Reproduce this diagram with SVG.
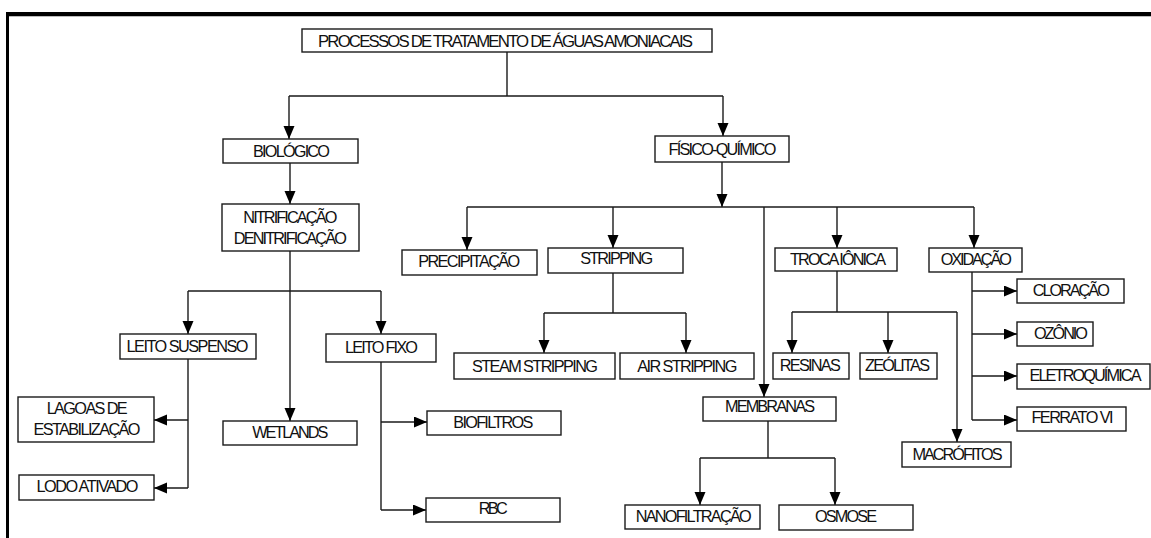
<svg xmlns="http://www.w3.org/2000/svg" width="1151" height="538" viewBox="0 0 1151 538">
<defs>
<style>
.box{fill:#fff;stroke:#1a1a1a;stroke-width:1.4}
.t{font-family:"Liberation Sans",Arial,sans-serif;font-size:16.3px;fill:#111;text-anchor:middle}
.title{font-size:16.8px}
.c{fill:none;stroke:#1a1a1a;stroke-width:1.4}
.a{marker-end:url(#arr)}
</style>
<marker id="arr" markerUnits="userSpaceOnUse" markerWidth="14" markerHeight="12" refX="13" refY="5.5" orient="auto">
<path d="M0,0 L13,5.5 L0,11 z" fill="#000"/>
</marker>
</defs>
<rect width="1151" height="538" fill="#fff"/>
<g id="frame">
<line x1="6" y1="14" x2="1151" y2="14" stroke="#000" stroke-width="4"/>
<line x1="6" y1="16.5" x2="1151" y2="16.5" stroke="#bbb" stroke-width="1"/>
<line x1="7.5" y1="12" x2="7.5" y2="538" stroke="#000" stroke-width="3"/>
</g>
<g id="connectors">
<path class="c" d="M507,52 V96 M289,96 H723"/>
<path class="c a" d="M289,96 V139"/>
<path class="c a" d="M723,96 V136"/>
<path class="c a" d="M290,163 V204"/>
<path class="c a" d="M290,251 V421"/>
<path class="c" d="M188,291 H381"/>
<path class="c a" d="M188,291 V334"/>
<path class="c a" d="M381,291 V334"/>
<path class="c" d="M188,359 V488"/>
<path class="c a" d="M188,420 H154"/>
<path class="c a" d="M188,488 H154"/>
<path class="c" d="M381,362 V510"/>
<path class="c a" d="M381,422 H427"/>
<path class="c a" d="M381,510 H426"/>
<path class="c a" d="M722,162 V207"/>
<path class="c" d="M467,207 H974"/>
<path class="c a" d="M467,207 V250"/>
<path class="c a" d="M613,207 V248"/>
<path class="c a" d="M764,207 V397"/>
<path class="c a" d="M837,207 V248"/>
<path class="c a" d="M974,207 V248"/>
<path class="c" d="M613,273 V313 M544,313 H686"/>
<path class="c a" d="M544,313 V353"/>
<path class="c a" d="M686,313 V353"/>
<path class="c" d="M837,271 V312 M792,312 H957"/>
<path class="c a" d="M792,312 V353"/>
<path class="c a" d="M888,312 V353"/>
<path class="c a" d="M957,312 V442"/>
<path class="c" d="M972,272 V420"/>
<path class="c a" d="M972,291 H1017"/>
<path class="c a" d="M972,334 H1017"/>
<path class="c a" d="M972,376 H1017"/>
<path class="c a" d="M972,420 H1017"/>
<path class="c" d="M768,421 V458 M700,458 H835"/>
<path class="c a" d="M700,458 V505"/>
<path class="c a" d="M835,458 V505"/>
</g>
<g id="n-root"><rect class="box" x="302" y="29" width="410" height="23"/><text class="t title" x="505.5" y="46.5" textLength="375" lengthAdjust="spacing">PROCESSOS DE TRATAMENTO DE ÁGUAS AMONIACAIS</text></g>
<g id="n-bio"><rect class="box" x="223" y="139" width="135" height="24"/><text class="t" x="291.5" y="156.5" textLength="77" lengthAdjust="spacing">BIOLÓGICO</text></g>
<g id="n-fq"><rect class="box" x="655" y="136" width="134" height="26"/><text class="t" x="722.5" y="154.5" textLength="108" lengthAdjust="spacing">FÍSICO-QUÍMICO</text></g>
<g id="n-nitri"><rect class="box" x="222" y="204" width="137" height="47"/><text class="t" x="290.3" y="222.5" textLength="94" lengthAdjust="spacing">NITRIFICAÇÃO</text><text class="t" x="290.3" y="244" textLength="113" lengthAdjust="spacing">DENITRIFICAÇÃO</text></g>
<g id="n-susp"><rect class="box" x="120" y="334" width="136" height="25"/><text class="t" x="187.5" y="352" textLength="122" lengthAdjust="spacing">LEITO SUSPENSO</text></g>
<g id="n-fixo"><rect class="box" x="326" y="334" width="110" height="28"/><text class="t" x="381.5" y="352.5" textLength="73" lengthAdjust="spacing">LEITO FIXO</text></g>
<g id="n-wet"><rect class="box" x="223" y="421" width="134" height="24"/><text class="t" x="290.3" y="437.7" textLength="76" lengthAdjust="spacing">WETLANDS</text></g>
<g id="n-lagoas"><rect class="box" x="18" y="397" width="136" height="45"/><text class="t" x="87.2" y="414" textLength="81" lengthAdjust="spacing">LAGOAS DE</text><text class="t" x="87" y="435" textLength="107" lengthAdjust="spacing">ESTABILIZAÇÃO</text></g>
<g id="n-lodo"><rect class="box" x="19" y="475" width="135" height="25"/><text class="t" x="87.5" y="492.3" textLength="102" lengthAdjust="spacing">LODO ATIVADO</text></g>
<g id="n-biof"><rect class="box" x="427" y="411" width="134" height="24"/><text class="t" x="493.3" y="427.7" textLength="80" lengthAdjust="spacing">BIOFILTROS</text></g>
<g id="n-rbc"><rect class="box" x="426" y="498" width="134" height="24"/><text class="t" x="493.3" y="514" textLength="29" lengthAdjust="spacing">RBC</text></g>
<g id="n-prec"><rect class="box" x="402" y="250" width="135" height="25"/><text class="t" x="469.2" y="267" textLength="102" lengthAdjust="spacing">PRECIPITAÇÃO</text></g>
<g id="n-strip"><rect class="box" x="548" y="248" width="135" height="25"/><text class="t" x="616.7" y="264.3" textLength="73" lengthAdjust="spacing">STRIPPING</text></g>
<g id="n-steam"><rect class="box" x="454" y="353" width="161" height="26"/><text class="t" x="535" y="371.5" textLength="126" lengthAdjust="spacing">STEAM STRIPPING</text></g>
<g id="n-air"><rect class="box" x="620" y="353" width="134" height="26"/><text class="t" x="687.3" y="371.5" textLength="100" lengthAdjust="spacing">AIR STRIPPING</text></g>
<g id="n-troca"><rect class="box" x="775" y="248" width="122" height="23"/><text class="t" x="838" y="265" textLength="96" lengthAdjust="spacing">TROCA IÔNICA</text></g>
<g id="n-oxi"><rect class="box" x="929" y="248" width="93" height="24"/><text class="t" x="976.3" y="265" textLength="71" lengthAdjust="spacing">OXIDAÇÃO</text></g>
<g id="n-clor"><rect class="box" x="1017" y="279" width="107" height="24"/><text class="t" x="1071.3" y="296" textLength="77" lengthAdjust="spacing">CLORAÇÃO</text></g>
<g id="n-oz"><rect class="box" x="1017" y="322" width="76" height="24"/><text class="t" x="1061" y="339.3" textLength="54" lengthAdjust="spacing">OZÔNIO</text></g>
<g id="n-eletro"><rect class="box" x="1017" y="364" width="133" height="25"/><text class="t" x="1085.5" y="381" textLength="112" lengthAdjust="spacing">ELETROQUÍMICA</text></g>
<g id="n-ferr"><rect class="box" x="1017" y="407" width="109" height="24"/><text class="t" x="1072.5" y="423.3" textLength="82" lengthAdjust="spacing">FERRATO VI</text></g>
<g id="n-res"><rect class="box" x="773" y="353" width="76" height="26"/><text class="t" x="810.3" y="370.7" textLength="61" lengthAdjust="spacing">RESINAS</text></g>
<g id="n-zeo"><rect class="box" x="860" y="353" width="77" height="26"/><text class="t" x="897.5" y="370.7" textLength="65" lengthAdjust="spacing">ZEÓLITAS</text></g>
<g id="n-macro"><rect class="box" x="902" y="442" width="109" height="25"/><text class="t" x="957.5" y="460" textLength="90" lengthAdjust="spacing">MACRÓFITOS</text></g>
<g id="n-memb"><rect class="box" x="703" y="397" width="133" height="24"/><text class="t" x="770" y="412.3" textLength="90" lengthAdjust="spacing">MEMBRANAS</text></g>
<g id="n-nano"><rect class="box" x="625" y="505" width="135" height="24"/><text class="t" x="693.7" y="521.7" textLength="116" lengthAdjust="spacing">NANOFILTRAÇÃO</text></g>
<g id="n-osm"><rect class="box" x="779" y="505" width="134" height="25"/><text class="t" x="846" y="521.7" textLength="62" lengthAdjust="spacing">OSMOSE</text></g>
</svg>
